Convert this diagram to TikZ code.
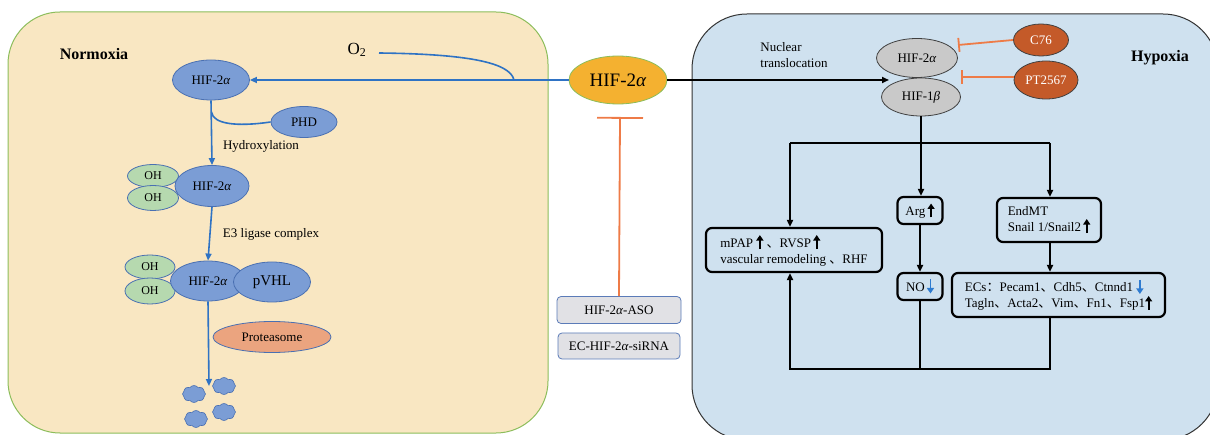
\documentclass[tikz,border=0pt]{standalone}
\usepackage{fontspec}
\setmainfont{Liberation Serif}
\newfontfamily\cjk{Noto Sans CJK SC}
\usetikzlibrary{arrows.meta,shapes.geometric,shapes.symbols}
\definecolor{tanfill}{HTML}{F9E7C2}
\definecolor{tanedge}{HTML}{8CBD5B}
\definecolor{bluefill}{HTML}{CFE1EF}
\definecolor{ellblue}{HTML}{7B9DD5}
\definecolor{ellblueedge}{HTML}{4A70B2}
\definecolor{ohgreen}{HTML}{B6D9AF}
\definecolor{salmon}{HTML}{EBA47F}
\definecolor{linkblue}{HTML}{2F73C4}
\definecolor{hifor}{HTML}{F4B130}
\definecolor{inhib}{HTML}{EE7B47}
\definecolor{drug}{HTML}{C45A29}
\definecolor{grayell}{HTML}{C9C9C9}
\definecolor{asofill}{HTML}{E1E1E5}
\definecolor{asoedge}{HTML}{5B7BB8}
\definecolor{downblue}{HTML}{2E7BD0}
\newcommand\halpha{\textit{α}}
\newcommand\hbeta{\textit{β}}
\newsavebox\uparr
\newsavebox\dnarr
\begin{document}
\sbox\uparr{\begin{pgfpicture}\pgfsetbaseline{0pt}\pgfsetlinewidth{1.8pt}\pgfsetarrowsend{Triangle[length=5.5pt,width=7pt]}\pgfpathmoveto{\pgfpoint{0pt}{-2pt}}\pgfpathlineto{\pgfpoint{0pt}{12pt}}\pgfusepath{stroke}\pgfpathrectangle{\pgfpoint{-3.5pt}{-2pt}}{\pgfpoint{7pt}{14pt}}\pgfusepath{use as bounding box}\end{pgfpicture}}
\sbox\dnarr{\begin{pgfpicture}\pgfsetbaseline{0pt}\pgfsetlinewidth{1.8pt}\pgfsetstrokecolor{downblue}\pgfsetfillcolor{downblue}\pgfsetarrowsend{Triangle[length=5.5pt,width=7pt]}\pgfpathmoveto{\pgfpoint{0pt}{12pt}}\pgfpathlineto{\pgfpoint{0pt}{-2pt}}\pgfusepath{stroke}\pgfpathrectangle{\pgfpoint{-3.5pt}{-2pt}}{\pgfpoint{7pt}{14pt}}\pgfusepath{use as bounding box}\end{pgfpicture}}
\begin{tikzpicture}[x=1pt,y=-1pt,
  txt/.style={font=\fontsize{13}{16}\selectfont},
  bell/.style={ellipse,draw=ellblueedge,fill=ellblue,line width=0.8pt,inner sep=0pt,font=\fontsize{13}{15}\selectfont},
  ohell/.style={bell,fill=ohgreen,font=\fontsize{12}{14}\selectfont},
  gell/.style={ellipse,draw=black!75,fill=grayell,line width=0.8pt,inner sep=0pt,font=\fontsize{13}{15}\selectfont},
  drugell/.style={ellipse,draw=black!75,fill=drug,line width=0.8pt,inner sep=0pt,text=white,font=\fontsize{13}{15}\selectfont},
  kbox/.style={rectangle,rounded corners=6pt,draw=black,line width=2.2pt,inner sep=0pt,align=left,font=\fontsize{13}{16}\selectfont},
  asobox/.style={rectangle,rounded corners=4pt,draw=asoedge,fill=asofill,line width=0.8pt,inner sep=0pt,font=\fontsize{13}{15}\selectfont},
  cloudblob/.style={cloud,cloud puffs=8,cloud puff arc=110,aspect=1.4,fill=ellblue,draw=ellblueedge,line width=0.6pt,minimum width=23pt,minimum height=17pt,inner sep=0pt},
  bline/.style={linkblue,line width=1.6pt},
  barrow/.style={bline,-{Triangle[length=7pt,width=6pt]}},
  kline/.style={black,line width=1.8pt},
  karrow/.style={kline,-{Triangle[length=7pt,width=6pt]}},
  inh/.style={inhib,line width=1.8pt,-{Bar[width=14pt]}}
]
\useasboundingbox (0,0) rectangle (1210,435);
% panels
\path[fill=tanfill,draw=tanedge,line width=1pt,rounded corners=52pt] (8,12) rectangle (548,433);
\path[fill=bluefill,draw=black!80,line width=1pt,rounded corners=55pt] (692,14) rectangle (1218,440);

% labels
\node[font=\bfseries\fontsize{16}{18}\selectfont] (normoxia) at (94,54) {Normoxia};
\node[font=\bfseries\fontsize{16}{18}\selectfont] (hypoxia) at (1160,58) {Hypoxia};
\node[font=\fontsize{17}{19}\selectfont,inner sep=0pt] (o2) at (357,50) {O\textsubscript{2}};
\node[txt,align=left] (nuc) at (794,55) {Nuclear\\translocation};
\node[txt] (hydro) at (261,146) {Hydroxylation};
\node[txt] (e3) at (271,234) {E3 ligase complex};

% central HIF
\node[ellipse,fill=hifor,draw=tanedge,line width=0.8pt,minimum width=98pt,minimum height=48pt,inner sep=0pt,font=\fontsize{19}{21}\selectfont] (hifo) at (618,80) {HIF-2\halpha};

% normoxia chain
\node[bell,minimum width=77pt,minimum height=40pt] (hif1) at (211,80) {HIF-2\halpha};
\node[bell,minimum width=66pt,minimum height=31pt] (phd) at (304,122) {PHD};
\node[ohell,minimum width=51pt,minimum height=23pt] (oh1) at (153,176) {OH};
\node[ohell,minimum width=51pt,minimum height=25pt] (oh2) at (153,198) {OH};
\node[bell,minimum width=74pt,minimum height=41pt] (hif2) at (212,186) {HIF-2\halpha};
\node[ohell,minimum width=50pt,minimum height=24pt] (oh3) at (150,267) {OH};
\node[ohell,minimum width=50pt,minimum height=26pt] (oh4) at (150,291) {OH};
\node[bell,minimum width=75pt,minimum height=40pt] (hif3) at (208,281) {HIF-2\halpha};
\node[bell,minimum width=77pt,minimum height=40pt,font=\fontsize{15}{17}\selectfont] (pvhl) at (272,282) {pVHL};
\node[bell,fill=salmon,minimum width=118pt,minimum height=31pt] (prot) at (272,337) {Proteasome};
\node[cloudblob] (c1) at (194,394) {};
\node[cloudblob] (c2) at (224,386) {};
\node[cloudblob] (c3) at (196,419) {};
\node[cloudblob] (c4) at (224,412) {};

% hypoxia side
\node[gell,minimum width=81pt,minimum height=39pt] (hifa) at (917,58) {HIF-2\halpha};
\node[gell,minimum width=79pt,minimum height=38pt] (hifb) at (921,97) {HIF-1\hbeta};
\node[drugell,minimum width=55pt,minimum height=32pt] (c76) at (1041,40) {C76};
\node[drugell,minimum width=64pt,minimum height=38pt] (pt) at (1046,80) {PT2567};

\node[kbox,minimum width=176pt,minimum height=44pt] (mpap) at (794,250)
  {mPAP \usebox\uparr\ {\cjk 、}RVSP\,\usebox\uparr\\vascular remodeling {\cjk 、}RHF};
\node[kbox,minimum width=45pt,minimum height=27pt] (arg) at (920,210.5) {Arg\,\usebox\uparr};
\node[kbox,minimum width=45pt,minimum height=27pt] (no) at (920,286.5) {NO\,\usebox\dnarr};
\node[kbox,minimum width=104pt,minimum height=44pt] (endmt) at (1049,220) {EndMT\\Snail 1/Snail2\,\usebox\uparr};
\node[kbox,minimum width=213pt,minimum height=44pt] (ecs) at (1058.5,295)
  {ECs{\cjk ：}Pecam1{\cjk 、}Cdh5{\cjk 、}Ctnnd1 \usebox\dnarr\\Tagln{\cjk 、}Acta2{\cjk 、}Vim{\cjk 、}Fn1{\cjk 、}Fsp1\usebox\uparr};

\node[asobox,minimum width=124pt,minimum height=27pt] (aso) at (619,310) {HIF-2\halpha-ASO};
\node[asobox,minimum width=122pt,minimum height=26pt] (sirna) at (619,346) {EC-HIF-2\halpha-siRNA};

% coordinates
\coordinate (o2s) at (379,53);
\coordinate (o2j) at (514,80);
\coordinate (phdj) at (211.5,112);
\coordinate (degr) at (209,386);
\coordinate (gj) at (889,80);
\coordinate (jC) at (921,143);
\coordinate (jL) at (790,143);
\coordinate (jR) at (1050,143);
\coordinate (bL) at (790,369);
\coordinate (c76t) at (958,45);
\coordinate (ptt) at (961,77);
\coordinate (asot) at (620,117);

% normoxia connectors
\draw[barrow] (hifo.west) -- (hif1.east);
\draw[bline] (o2s) .. controls (465,54) and (510,62) .. (o2j);
\draw[barrow] (hif1.south) -- (hif2.north);
\draw[bline] (phdj) .. controls (213,124) and (236,127) .. (phd.west);
\draw[barrow] (hif2.south) -- (hif3.north);
\draw[barrow] (hif3.south) -- (degr);

% hypoxia connectors
\draw[karrow] (hifo.east) -- (gj);
\draw[kline] (hifb.south) -- (jC);
\draw[kline] (jL) -- (jR);
\draw[karrow] (jL) -- (jL |- mpap.north);
\draw[karrow] (jC) -- (jC |- arg.north);
\draw[karrow] (jR) -- (jR |- endmt.north);
\draw[karrow] (arg.south) -- (no.north);
\draw[karrow] (jR |- endmt.south) -- (jR |- ecs.north);
\draw[kline] (no.south) -- (no.south |- bL);
\draw[karrow] (jR |- ecs.south) |- (bL) -- (jL |- mpap.south);

% inhibitors
\draw[inh] (c76.west) -- (c76t);
\draw[inh] (pt.west |- ptt) -- (ptt);
\draw[inh,-{Bar[width=46pt]}] (aso.north) -- (asot);
\end{tikzpicture}
\end{document}
